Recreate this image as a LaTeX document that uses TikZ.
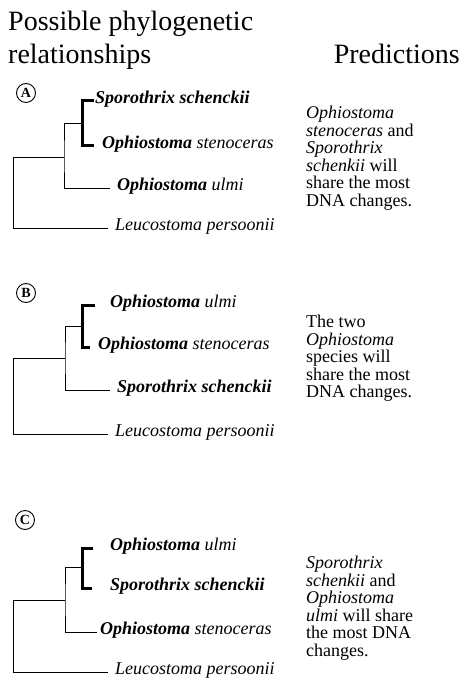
\documentclass[tikz,border=0pt]{standalone}
\usepackage{fontspec}
\setmainfont{Liberation Serif}
\begin{document}
\begin{tikzpicture}[x=1pt,y=-1pt,
  thin line/.style={line width=0.9pt},
  brk/.style={line width=3pt},
  lab/.style={anchor=west, inner ysep=0pt, text height=0.7em, text depth=0.25em, font=\fontsize{18}{18}\selectfont\itshape},
  pred/.style={anchor=north west, inner sep=0pt, align=left, font=\fontsize{18}{17.5}\selectfont},
  title/.style={anchor=base west, inner sep=0pt, font=\fontsize{28}{28}\selectfont},
  letter/.style={circle, draw, line width=0.9pt, inner sep=0pt, minimum size=19pt, font=\fontsize{14}{14}\selectfont\bfseries}]
\useasboundingbox (0,0) rectangle (463,684);
\newcommand{\gen}[1]{\textbf{#1}}
% titles
\node[title] (t1) at (8,31) {Possible phylogenetic};
\node[title] (t2) at (8,64) {relationships};
\node[title, anchor=base east] (t3) at (460,64) {Predictions};
% ---------- A ----------
\node[letter] (cA) at (26,93) {A};
\node[lab, inner xsep=1pt] (sA1) at (94,101) {\gen{Sporothrix schenckii}};
\node[lab, inner xsep=8pt] (sA2) at (94,146) {\gen{Ophiostoma} stenoceras};
\node[lab, inner xsep=7pt] (sA3) at (110,188) {\gen{Ophiostoma} ulmi};
\node[lab, inner xsep=7pt] (sA4) at (108,228) {Leucostoma persoonii};
\coordinate (bA) at (82,123);
\coordinate (jA) at (64,157);
\coordinate (rA) at (13,157);
\draw[brk] (sA1.west) -| (bA) |- (sA2.west);
\draw[thin line] (bA) -| (jA) |- (sA3.west);
\draw[thin line] (jA) -- (rA) |- (sA4.west);
\node[pred] (pA) at (306,106) {\textit{Ophiostoma}\\\textit{stenoceras} and\\\textit{Sporothrix}\\\textit{schenkii} will\\share the most\\DNA changes.};
% ---------- B ----------
\node[letter] (cB) at (26,293) {B};
\node[lab, inner xsep=15pt] (sB1) at (95,305) {\gen{Ophiostoma} ulmi};
\node[lab, inner xsep=8pt] (sB2) at (90,347) {\gen{Ophiostoma} stenoceras};
\node[lab, inner xsep=7pt] (sB3) at (110,390) {\gen{Sporothrix schenckii}};
\node[lab, inner xsep=7pt] (sB4) at (108,434) {Leucostoma persoonii};
\coordinate (bB) at (82,326);
\coordinate (jB) at (65,358);
\coordinate (rB) at (13,358);
\draw[brk] (sB1.west) -| (bB) |- (sB2.west);
\draw[thin line] (bB) -| (jB) |- (sB3.west);
\draw[thin line] (jB) -- (rB) |- (sB4.west);
\node[pred] (pB) at (306,315) {The two\\\textit{Ophiostoma}\\species will\\share the most\\DNA changes.};
% ---------- C ----------
\node[letter] (cC) at (25,520) {C};
\node[lab, inner xsep=17pt] (sC1) at (93,548) {\gen{Ophiostoma} ulmi};
\node[lab, inner xsep=18pt] (sC2) at (92,588) {\gen{Sporothrix schenckii}};
\node[lab, inner xsep=3pt] (sC3) at (97,632) {\gen{Ophiostoma} stenoceras};
\node[lab, inner xsep=7pt] (sC4) at (108,672) {Leucostoma persoonii};
\coordinate (bC) at (82,567);
\coordinate (jC) at (65,600);
\coordinate (rC) at (13,600);
\draw[brk] (sC1.west) -| (bC) |- (sC2.west);
\draw[thin line] (bC) -| (jC) |- (sC3.west);
\draw[thin line] (jC) -- (rC) |- (sC4.west);
\node[pred] (pC) at (306,556) {\textit{Sporothrix}\\\textit{schenkii} and\\\textit{Ophiostoma}\\\textit{ulmi} will share\\the most DNA\\changes.};
\end{tikzpicture}
\end{document}
